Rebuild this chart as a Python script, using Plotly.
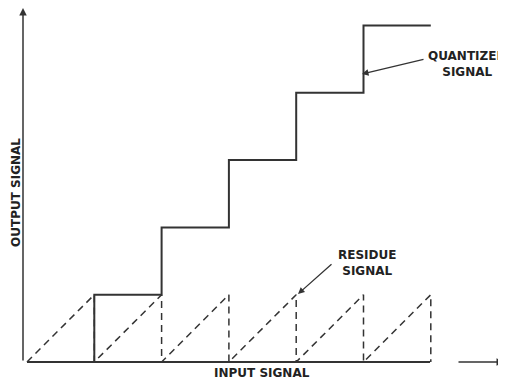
import plotly.graph_objects as go

# ---- data ----
input_edges = [0, 1, 2, 3, 4, 5, 6]          # input signal step boundaries
quantized_levels = [0, 1, 2, 3, 4, 5]        # output level for each input interval
residue_peak = [1, 1, 1, 1, 1, 1]            # residue ramp height per interval

# ---- build traces ----
qx = list(input_edges)
qy = quantized_levels + [quantized_levels[-1]]

rx, ry = [input_edges[0]], [0]
for k in range(len(residue_peak)):
    rx += [input_edges[k + 1], input_edges[k + 1]]
    ry += [residue_peak[k], 0]

ink = "#333333"
U = 67.3  # px per unit
x0px, y0px = 27, 362   # origin in window pixels
W, H = 506, 381
PAD = 8                # default page body margin

def px_x(p):
    return (p - x0px) / U

def px_y(p):
    return (y0px - p) / U

fig = go.Figure()
fig.add_trace(go.Scatter(x=rx, y=ry, mode="lines",
                         line=dict(color=ink, width=1.5, dash="7px,5px"),
                         hoverinfo="skip", showlegend=False))
fig.add_trace(go.Scatter(x=qx, y=qy, mode="lines", line_shape="hv",
                         line=dict(color=ink, width=2),
                         hoverinfo="skip", showlegend=False))

# axes lines
fig.add_shape(type="line", x0=0, y0=0, x1=px_x(430), y1=0,
              line=dict(color=ink, width=2))
fig.add_annotation(x=px_x(504), y=0, ax=px_x(457), ay=0, axref="x", ayref="y",
                   xref="x", yref="y", showarrow=True, arrowhead=2, arrowsize=1,
                   arrowwidth=1.5, arrowcolor=ink, text="")
fig.add_annotation(x=px_x(23), y=px_y(8), ax=px_x(23), ay=0, axref="x", ayref="y",
                   xref="x", yref="y", showarrow=True, arrowhead=2, arrowsize=1,
                   arrowwidth=1.5, arrowcolor=ink, text="")

font = dict(family="DejaVu Sans", size=12, color="#222222", weight="bold")

fig.add_annotation(x=px_x(262), y=px_y(373), text="INPUT SIGNAL", showarrow=False,
                   font=font, xref="x", yref="y")
fig.add_annotation(x=px_x(16), y=px_y(193), text="OUTPUT SIGNAL", showarrow=False,
                   textangle=-90, font=font, xref="x", yref="y")
fig.add_annotation(x=px_x(467), y=px_y(63.5), text="QUANTIZED<br>SIGNAL",
                   showarrow=False, font=font, xref="x", yref="y", align="center")
fig.add_annotation(x=px_x(367), y=px_y(262.5), text="RESIDUE<br>SIGNAL",
                   showarrow=False, font=font, xref="x", yref="y", align="center")

# pointer arrows
fig.add_annotation(x=px_x(362), y=px_y(74), ax=px_x(425), ay=px_y(59),
                   axref="x", ayref="y", xref="x", yref="y", showarrow=True,
                   arrowhead=2, arrowsize=1, arrowwidth=1.3, arrowcolor=ink, text="")
fig.add_annotation(x=px_x(298), y=px_y(294), ax=px_x(333), ay=px_y(263),
                   axref="x", ayref="y", xref="x", yref="y", showarrow=True,
                   arrowhead=2, arrowsize=1, arrowwidth=1.3, arrowcolor=ink, text="")

fig.update_layout(
    width=W - PAD, height=H - PAD,
    margin=dict(l=0, r=0, t=0, b=0),
    paper_bgcolor="white", plot_bgcolor="white",
    xaxis=dict(range=[px_x(PAD), px_x(W)], visible=False, fixedrange=True),
    yaxis=dict(range=[px_y(H), px_y(PAD)], visible=False, fixedrange=True),
)

fig.write_html("out.html")
